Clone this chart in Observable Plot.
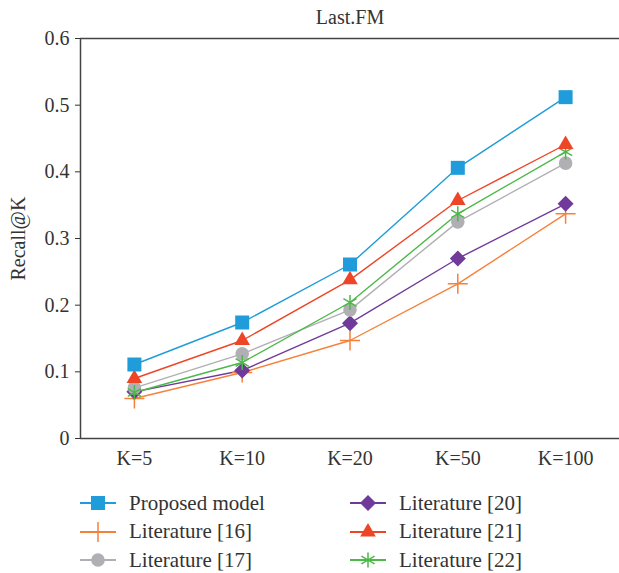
<!DOCTYPE html>
<html><head><meta charset="utf-8">
<script src="https://cdn.jsdelivr.net/npm/d3@7"></script>
<script src="https://cdn.jsdelivr.net/npm/@observablehq/plot@0.6"></script>
<style>
body{margin:0;background:#fff;color:#333;}
#legend{display:grid;grid-template-columns:270px 260px;grid-template-rows:repeat(3,28.5px);grid-auto-flow:column;margin:19px 0 0 80px;font-size:21px;}
.item{display:flex;align-items:center;}
.item svg{margin-right:13px;overflow:visible}
</style></head><body>
<div id="chart"></div>
<div id="legend"></div>
<script>
const categories = ["K=5","K=10","K=20","K=50","K=100"];
const seriesNames = ["Proposed model","Literature [16]","Literature [17]","Literature [20]","Literature [21]","Literature [22]"];
const proposed = [0.111,0.174,0.261,0.406,0.512];
const lit16 = [0.060,0.099,0.147,0.232,0.337];
const lit17 = [0.076,0.127,0.193,0.325,0.413];
const lit20 = [0.070,0.102,0.173,0.270,0.352];
const lit21 = [0.090,0.147,0.238,0.357,0.441];
const lit22 = [0.069,0.114,0.204,0.337,0.430];
const yTicks = [0,0.1,0.2,0.3,0.4,0.5,0.6];
const colors = ["#1f9cd9","#f5813a","#b0b0b4","#6f3a9a","#ee4526","#4cb848"];
const symbols = ["square","plus","circle","diamond2","triangle","asterisk"];
const radii = [7.9,6.5,6.8,7.2,5.8,7.2];
const strokeOnly = [false,true,false,false,false,true];

const allValues = [proposed,lit16,lit17,lit20,lit21,lit22];
const rows = [];
allValues.forEach((vals,s)=>vals.forEach((v,i)=>rows.push({series:seriesNames[s],s,i,k:categories[i],v})));

const FONT = "Liberation Serif";
document.body.style.fontFamily = FONT;
const marks = [
  Plot.ruleY([0.6],{stroke:"#444",strokeWidth:1.5}),
  Plot.ruleY([0],{stroke:"#444",strokeWidth:1.5}),
  Plot.ruleX([-0.5],{stroke:"#444",strokeWidth:1.5}),
  Plot.axisY({ticks:yTicks,tickFormat:d=>d===0?"0":d.toFixed(1),tickSize:5,tickPadding:6,fontSize:20,
    label:"Recall@K",labelArrow:"none",labelAnchor:"center",labelOffset:70}),
  Plot.axisX({ticks:[0,1,2,3,4],tickFormat:i=>categories[i],tickSize:0,tickPadding:12,fontSize:20,label:null}),
  Plot.text(["Last.FM"],{frameAnchor:"top",dy:-29,fontSize:20,fill:"#333"})
];
const order = [1,3,2,5,4,0];
order.forEach(s=>{
  const d = rows.filter(r=>r.s===s);
  marks.push(Plot.line(d,{x:"i",y:"v",stroke:colors[s],strokeWidth:1.4}));
});
order.forEach(s=>{
  const d = rows.filter(r=>r.s===s);
  marks.push(Plot.dot(d,{x:"i",y:"v",symbol:()=>symbols[s],r:radii[s],
    fill:strokeOnly[s]?"none":colors[s],stroke:strokeOnly[s]?colors[s]:"none",strokeWidth:strokeOnly[s]?1.5:0}));
});

const chart = Plot.plot({
  width:619,height:470,
  marginTop:38,marginBottom:32,marginLeft:80,marginRight:0,
  style:{fontFamily:FONT,fontSize:"20px",color:"#333",background:"#fff",overflow:"visible"},
  x:{type:"linear",domain:[-0.5,4.5]},
  y:{domain:[0,0.6]},
  symbol:{type:"identity"},
  marks
});
document.getElementById("chart").appendChild(chart);

const legend = document.getElementById("legend");
seriesNames.forEach((name,s)=>{
  const div = document.createElement("div");
  div.className="item";
  const svg = d3.create("svg").attr("width",36).attr("height",20);
  svg.append("line").attr("x1",0).attr("x2",36).attr("y1",10).attr("y2",10).attr("stroke",colors[s]).attr("stroke-width",2);
  const sym = {square:d3.symbolSquare,plus:d3.symbolPlus,circle:d3.symbolCircle,diamond2:d3.symbolDiamond2,triangle:d3.symbolTriangle,asterisk:d3.symbolAsterisk}[symbols[s]];
  svg.append("path").attr("transform","translate(18,10)")
    .attr("d",d3.symbol(sym,radii[s]*radii[s]*Math.PI)())
    .attr("fill",strokeOnly[s]?"none":colors[s]).attr("stroke",strokeOnly[s]?colors[s]:"none").attr("stroke-width",1.5);
  div.appendChild(svg.node());
  const t = document.createElement("span"); t.textContent=name; div.appendChild(t);
  legend.appendChild(div);
});
</script>
</body></html>
